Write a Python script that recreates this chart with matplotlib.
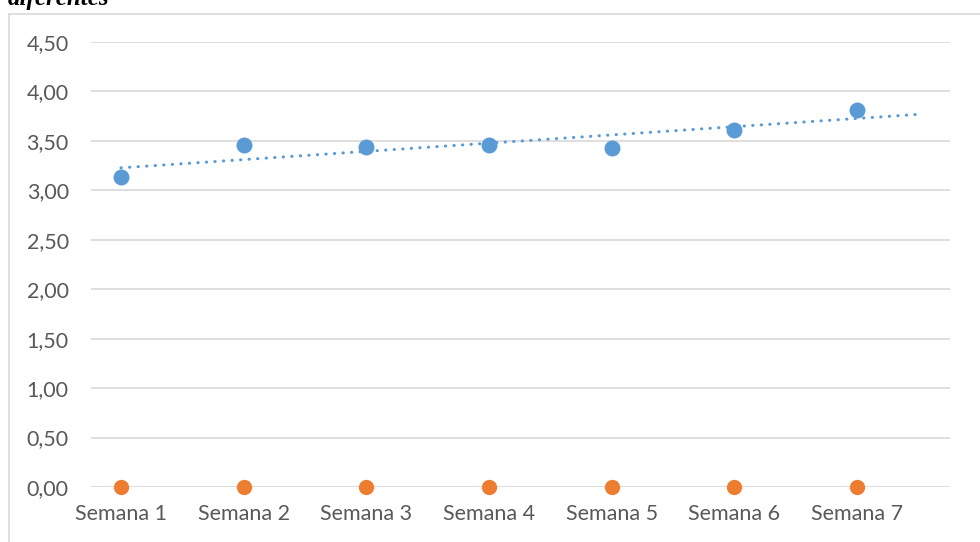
import numpy as np
import matplotlib.pyplot as plt
from matplotlib.lines import Line2D

# data
semanas = ['Semana 1', 'Semana 2', 'Semana 3', 'Semana 4', 'Semana 5', 'Semana 6', 'Semana 7']
serie_azul = [3.13, 3.46, 3.44, 3.46, 3.43, 3.61, 3.81]
serie_naranja = [0, 0, 0, 0, 0, 0, 0]
yticks = [0, 0.5, 1.0, 1.5, 2.0, 2.5, 3.0, 3.5, 4.0, 4.5]

W, H = 980, 542
fig = plt.figure(figsize=(W / 100, H / 100), dpi=100)
ax = fig.add_axes([91 / W, (H - 487) / H, (950 - 91) / W, (487 - 42) / H])

x = np.arange(1, len(semanas) + 1)

# linear trend on blue series, forecast half a period forward
m, b = np.polyfit(x, serie_azul, 1)
xt = np.array([1, 7.5])
ax.plot(xt, m * xt + b, color='#5B9BD5', lw=2.2, linestyle=(0, (0.1, 2.7)),
        dash_capstyle='round', zorder=3)

ax.plot(x, serie_azul, 'o', color='#5B9BD5', ms=11.5, mec='none', zorder=4, clip_on=False)
ax.plot(x, serie_naranja, 'o', color='#ED7D31', ms=11, mec='none', zorder=4, clip_on=False)

ax.set_xlim(1 - 30 / 122.67, 7 + 93 / 122.67)
ax.set_ylim(0, 4.5)
ax.set_yticks(yticks)
ax.set_yticklabels([f'{v:.2f}'.replace('.', ',') for v in yticks])
ax.set_xticks(x)
ax.set_xticklabels(semanas)
ax.grid(axis='y', color='#d9d9d9', lw=1.2)
ax.set_axisbelow(True)
for s in ax.spines.values():
    s.set_visible(False)
ax.tick_params(length=0, labelcolor='#595959', labelsize=15.5)
ax.tick_params(axis='x', pad=12)
ax.tick_params(axis='y', pad=16)
for lab in ax.get_xticklabels() + ax.get_yticklabels():
    lab.set_family('Lato')

# chart area border (only left and top visible)
fig.add_artist(Line2D([8.5 / W, 8.5 / W], [0, 1 - 13.5 / H], color='#d9d9d9', lw=1.2))
fig.add_artist(Line2D([8.5 / W, 1], [1 - 13.5 / H, 1 - 13.5 / H], color='#d9d9d9', lw=1.2))

# cut-off caption above the chart
fig.text(8 / W, 1 - 5 / H, 'diferentes', family='Liberation Serif', weight='bold',
         style='italic', fontsize=18, va='baseline', ha='left')

fig.savefig('out.png', dpi=100)
